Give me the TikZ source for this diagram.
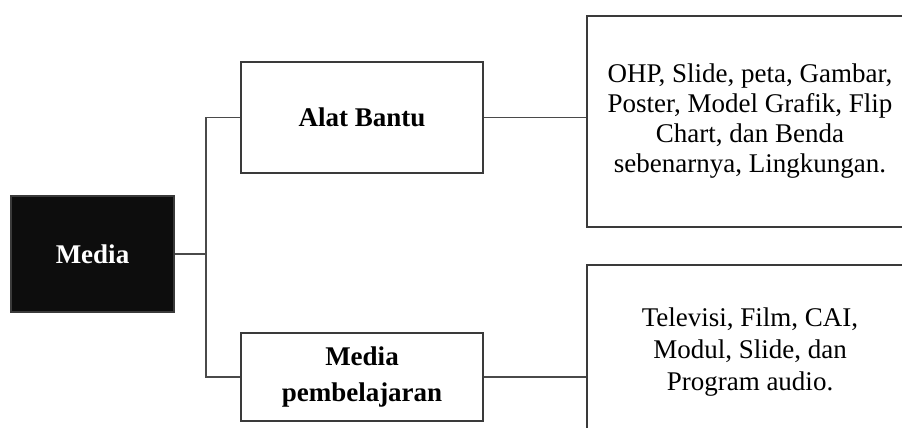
\documentclass[tikz,border=0pt]{standalone}
\usepackage{fontspec}
\setmainfont{Liberation Serif}
\definecolor{edge}{HTML}{3A3A3A}
\definecolor{line}{HTML}{4A4A4A}
\definecolor{dark}{HTML}{0D0D0D}
\begin{document}
\begin{tikzpicture}[x=1pt,y=-1pt,
  box/.style={draw=edge,line width=1.4pt,rectangle,inner sep=0pt,align=center},
  conn/.style={draw=line,line width=1.6pt},
  big/.style={font=\fontsize{27}{30}\selectfont}]
\useasboundingbox (0,0) rectangle (902,428);
\clip (0,0) rectangle (902,428);
\node[box,fill=dark,text=white,minimum width=163pt,minimum height=116pt,font=\fontsize{27}{30}\selectfont\bfseries] (media) at (92.5,254) {Media};
\node[box,minimum width=242pt,minimum height=111pt,font=\fontsize{27}{30}\selectfont\bfseries] (alat) at (362,117.5) {Alat Bantu};
\node[box,minimum width=242pt,minimum height=88pt,font=\fontsize{27}{36}\selectfont\bfseries] (mp) at (362,377) {Media\\pembelajaran};
\node[box,big,minimum width=326pt,minimum height=211pt] (r1) at (750,121.5) {OHP, Slide, peta, Gambar,\\Poster, Model Grafik, Flip\\Chart, dan Benda\\sebenarnya, Lingkungan.};
\node[box,minimum width=326pt,minimum height=174pt,font=\fontsize{27}{32}\selectfont] (r2) at (750,352) {Televisi, Film, CAI,\\Modul, Slide, dan\\Program audio.};
\coordinate (jt) at (206,0);
\draw[conn] (alat.west) -| (jt |- mp.west) -- (mp.west);
\draw[conn] (media.east) -- (media.east -| jt);
\draw[conn] (alat.east) -- (alat.east -| r1.west);
\draw[conn] (mp.east) -- (mp.east -| r2.west);
\end{tikzpicture}
\end{document}
